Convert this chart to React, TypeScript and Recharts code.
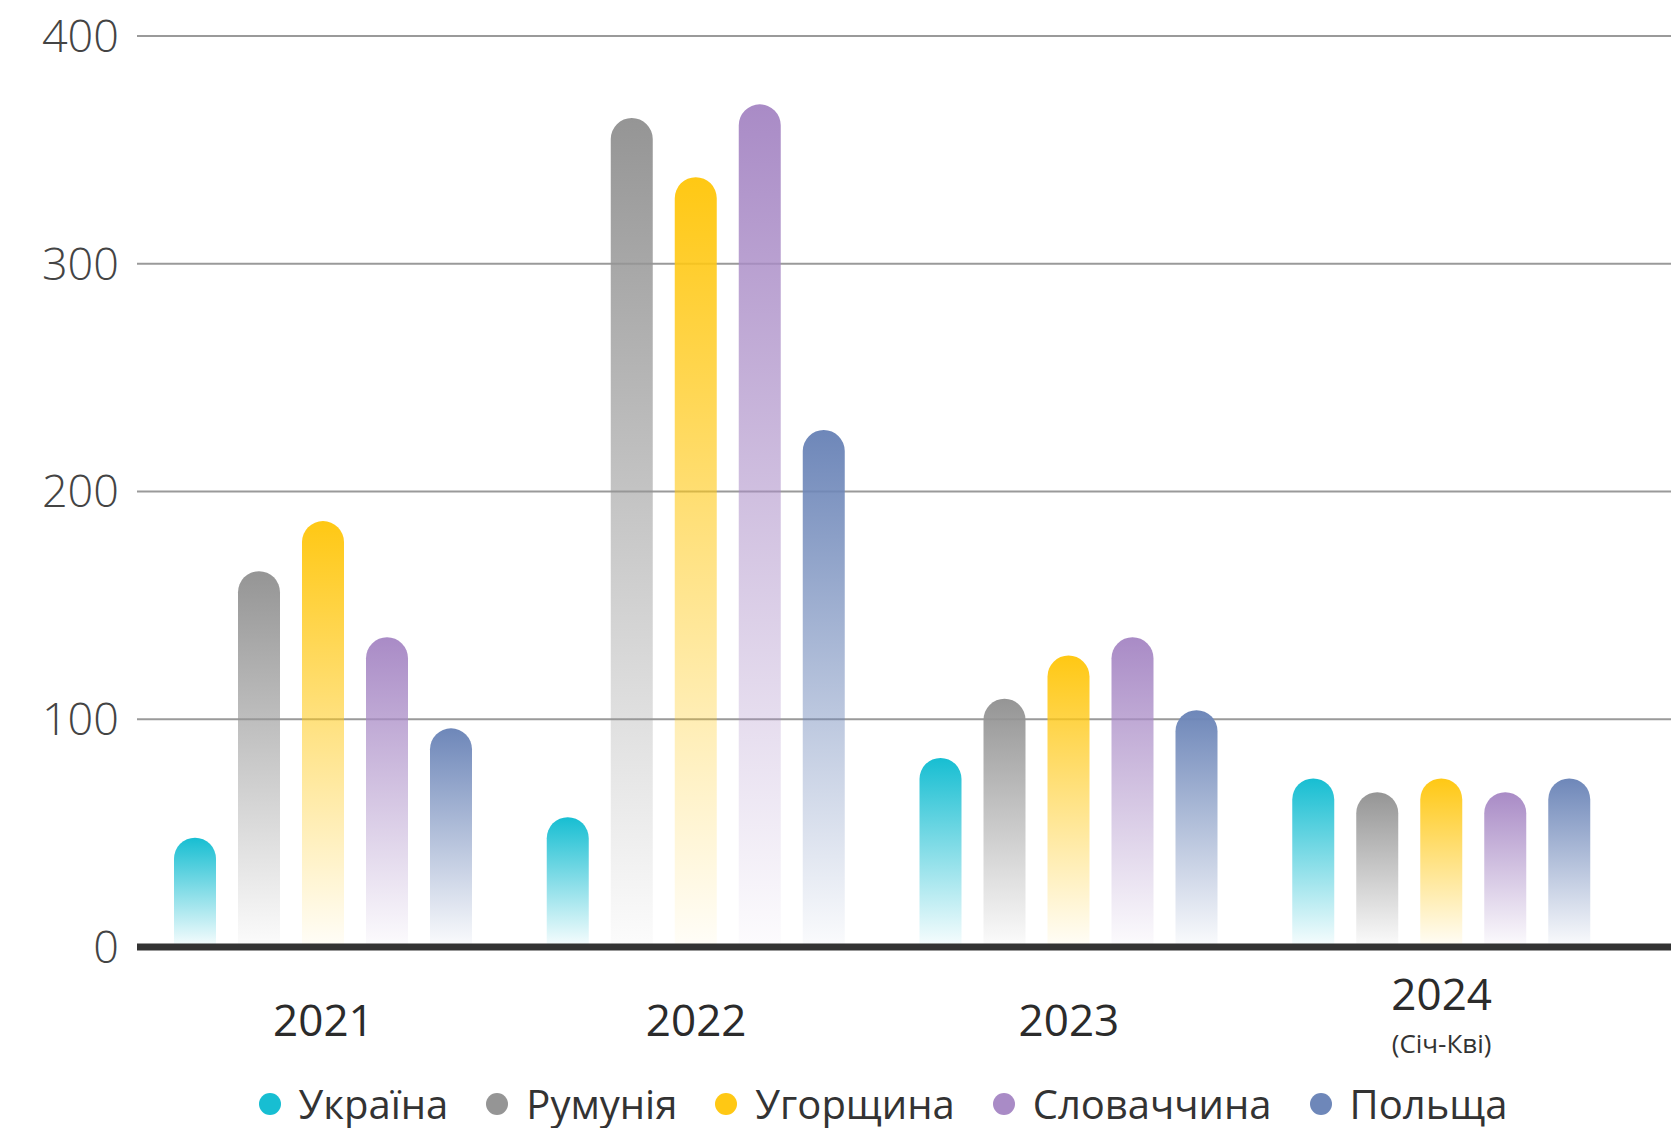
import React from 'react'
import { BarChart, Bar, XAxis, YAxis, CartesianGrid, Legend } from 'recharts'

const years = ['2021', '2022', '2023', '2024']
const yearNotes = ['', '', '', '(Січ-Кві)']
const countries = ['Україна', 'Румунія', 'Угорщина', 'Словаччина', 'Польща']
const ukraine = [48, 57, 83, 74]
const romania = [165, 364, 109, 68]
const hungary = [187, 338, 128, 74]
const slovakia = [136, 370, 136, 68]
const poland = [96, 227, 104, 74]
const yTicks = [0, 100, 200, 300, 400]

const keys = ['ua', 'ro', 'hu', 'sk', 'pl']
const colors = ['#17BED2', '#959595', '#FFC814', '#A98BC6', '#6E87B9']
const font = '"Open Sans", sans-serif'

const data = years.map((year, i) => ({
  year,
  ua: ukraine[i],
  ro: romania[i],
  hu: hungary[i],
  sk: slovakia[i],
  pl: poland[i],
}))

function YearTick({ x, y, payload }: any) {
  const note = yearNotes[years.indexOf(payload.value)]
  return (
    <g transform={`translate(${x},${y})`}>
      <text textAnchor="middle" y={note ? 63 : 89} fontSize={44} fontWeight={500} fill="#2b2b2b" fontFamily={font}>
        {payload.value}
      </text>
      {note && (
        <text textAnchor="middle" y={106} fontSize={26} fill="#333" fontFamily={font}>
          {note}
        </text>
      )}
    </g>
  )
}

function LegendRow() {
  return (
    <div style={{ height: 61, paddingTop: 13, paddingLeft: 95, boxSizing: 'border-box', display: 'flex', justifyContent: 'center', gap: 38, fontFamily: font, fontSize: 40, lineHeight: '44px', color: '#333' }}>
      {countries.map((c, i) => (
        <div key={c} style={{ display: 'flex', alignItems: 'center', gap: 18 }}>
          <span style={{ width: 22, height: 22, borderRadius: '50%', background: colors[i], display: 'inline-block' }} />
          <span>{c}</span>
        </div>
      ))}
    </div>
  )
}

export default function App() {
  return (
    <div style={{ position: 'absolute', left: 0, top: 0, background: '#fff' }}>
      <BarChart width={1671} height={1128} data={data} margin={{ top: 36, right: 0, left: 0, bottom: 0 }} barSize={42} barGap={22}>
        <defs>
          {keys.map((k, i) => (
            <linearGradient key={k} id={`g-${k}`} x1="0" y1="0" x2="0" y2="1">
              <stop offset="0%" stopColor={colors[i]} stopOpacity={1} />
              <stop offset="100%" stopColor={colors[i]} stopOpacity={0.03} />
            </linearGradient>
          ))}
        </defs>
        <CartesianGrid vertical={false} stroke="#9a9a9a" strokeWidth={2} />
        <XAxis dataKey="year" height={120} padding={{ left: 0, right: 43 }} axisLine={{ stroke: '#333', strokeWidth: 7 }} tickLine={false} tickSize={0} tickMargin={0} tick={<YearTick />} interval={0} />
        <YAxis width={137} domain={[0, 400]} ticks={yTicks} axisLine={false} tickLine={false} tickSize={0} tickMargin={18} tick={{ fontSize: 45, fontWeight: 300, fill: '#444', fontFamily: font }} />
        <Legend verticalAlign="bottom" content={() => <LegendRow />} />
        {keys.map((k, i) => (
          <Bar key={k} dataKey={k} name={countries[i]} fill={`url(#g-${k})`} radius={[21, 21, 0, 0]} isAnimationActive={false} />
        ))}
      </BarChart>
    </div>
  )
}
